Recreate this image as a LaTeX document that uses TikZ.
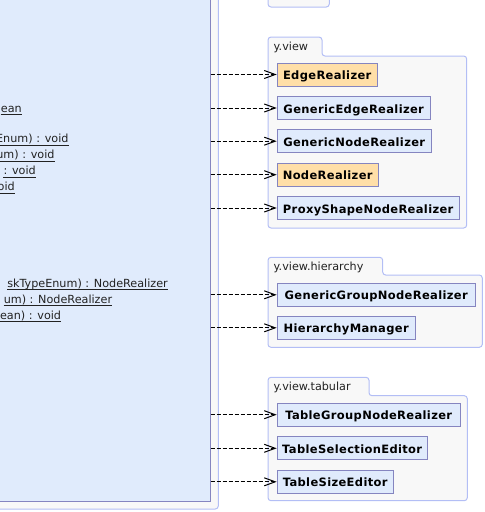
\documentclass[tikz,border=0pt]{standalone}
\usepackage{fontspec}
\setmainfont{DejaVu Sans}
\newfontfamily\clsfont[LetterSpace=3]{DejaVu Sans}
\usetikzlibrary{arrows.meta}
\definecolor{clsfill}{HTML}{E0EBFC}
\definecolor{clsorange}{HTML}{FFDFA8}
\definecolor{clsborder}{HTML}{8585C0}
\definecolor{pkgfill}{HTML}{F8F8F8}
\definecolor{pkgborder}{HTML}{B3BEF5}
\definecolor{txtgray}{HTML}{222222}
\newcommand\ultext[4]{%
  \node[ltxt] (#1) at (#2,#3) {#4};
  \draw[uline] ([yshift=-2.4pt]#1.base west) -- ([yshift=-2.4pt]#1.base east);}
\begin{document}
\begin{tikzpicture}[x=1pt,y=-1pt,
  pkg/.style={draw=pkgborder,fill=pkgfill,line width=1pt,rounded corners=3pt},
  classbox/.style={draw=clsborder,fill=clsfill,line width=1pt,inner sep=0pt,
    minimum height=23pt,anchor=west,text height=10.4pt,text depth=0.4pt,
    font=\clsfont\bfseries\fontsize{11.5}{13}\selectfont},
  orangebox/.style={classbox,fill=clsorange},
  pkglabel/.style={anchor=base west,inner sep=0pt,text=txtgray,font=\fontsize{11.2}{13}\selectfont},
  ltxt/.style={anchor=base east,inner sep=0pt,text=txtgray,font=\fontsize{11.2}{13}\selectfont},
  uline/.style={draw=txtgray,line width=0.8pt},
  dep/.style={draw=black,line width=1pt,dash pattern=on 4pt off 2pt,
    -{Straight Barb[length=11pt,width=8pt,line width=1pt]}}]
\useasboundingbox (0,0) rectangle (485,512);
\clip (0,0) rectangle (485,512);

% outer frame and main class
\draw[pkg] (-30,-30) rectangle (218.3,509);
\node[draw=clsborder,fill=clsfill,line width=1pt,inner sep=0pt,minimum width=260pt,
  minimum height=540pt,anchor=south east] (main) at (210.7,501.7) {};

\ultext{t1}{22}{112}{ean}
\ultext{t2}{68.7}{142.5}{Enum) : void}
\ultext{t3}{54.7}{158.5}{um) : void}
\ultext{t4}{36}{174.5}{: void}
\ultext{t5}{15}{190.5}{oid}
\ultext{t6}{168}{287}{skTypeEnum) : NodeRealizer}
\ultext{t7}{112.3}{303}{um) : NodeRealizer}
\ultext{t8}{61.3}{319}{ean) : void}

% stub package at top
\draw[pkg] (268,-10) rectangle (329.3,7);

% y.view
\draw[pkg] (268,228) -- (268,37) -- (322,37) -- (322,56) -- (466.7,56) -- (466.7,228) -- cycle;
\node[pkglabel] (l1) at (273.5,50.5) {y.view};
\node[orangebox,minimum width=100pt] (er) at (276.7,74.5) {EdgeRealizer};
\node[classbox,minimum width=153pt] (ger) at (276.7,108) {GenericEdgeRealizer};
\node[classbox,minimum width=154pt] (gnr) at (276.7,141.2) {GenericNodeRealizer};
\node[orangebox,minimum width=101pt] (nr) at (276.7,174.7) {NodeRealizer};
\node[classbox,minimum width=182pt] (psnr) at (276.7,208) {ProxyShapeNodeRealizer};

% y.view.hierarchy
\draw[pkg] (268,347.3) -- (268,257.3) -- (382.7,257.3) -- (382.7,275) -- (482.3,275) -- (482.3,347.3) -- cycle;
\node[pkglabel] (l2) at (273.5,270.8) {y.view.hierarchy};
\node[classbox,minimum width=198pt] (ggnr) at (276.7,294.8) {GenericGroupNodeRealizer};
\node[classbox,minimum width=138pt] (hm) at (276.7,327.8) {HierarchyManager};

% y.view.tabular
\draw[pkg] (268,500.7) -- (268,377.3) -- (369,377.3) -- (369,395.7) -- (467.3,395.7) -- (467.3,500.7) -- cycle;
\node[pkglabel] (l3) at (273.5,390.8) {y.view.tabular};
\node[classbox,minimum width=183pt] (tgnr) at (276.7,414.7) {TableGroupNodeRealizer};
\node[classbox,minimum width=150pt] (tse) at (276.7,448.3) {TableSelectionEditor};
\node[classbox,minimum width=116pt] (tsz) at (276.7,481.8) {TableSizeEditor};

% dependencies
\foreach \n in {er,ger,gnr,nr,psnr,ggnr,hm,tgnr,tse,tsz}
  \draw[dep] (main.east |- \n.west) -- (\n.west);
\end{tikzpicture}
\end{document}
